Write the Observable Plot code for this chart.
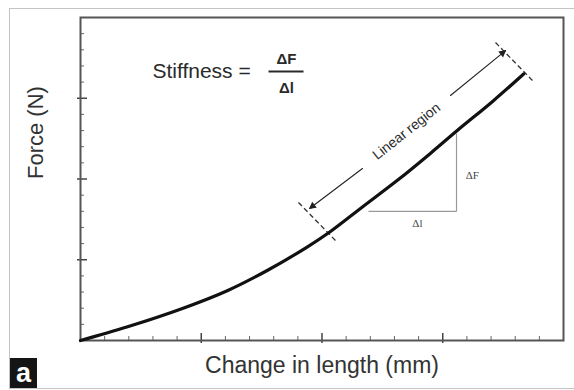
<!DOCTYPE html>
<html>
<head>
<meta charset="utf-8">
<script src="https://cdn.jsdelivr.net/npm/d3@7"></script>
<script src="https://cdn.jsdelivr.net/npm/@observablehq/plot@0.6"></script>
<style>
  body { margin: 0; background: #fff; }
  #wrap { position: relative; width: 574px; height: 390px; background: #fff; overflow: hidden; }
  #border { position: absolute; left: 9px; top: 8px; width: 580px; height: 379px; border: 1px solid #c4c4c4; border-right: none; }
  #chart { position: absolute; left: 0; top: 0; }
  #tag { position: absolute; left: 10px; top: 358px; width: 27px; height: 30px; background: #151515; color: #fff;
         font: bold 27px "Liberation Sans", Arial, sans-serif; line-height: 30px; text-align: center; }
</style>
</head>
<body>
<div id="wrap">
  <div id="border"></div>
  <div id="chart"></div>
  <div id="tag">a</div>
</div>
<script>
// Force–elongation curve (x: change in length, y: force)
const curveX = [0, 0.39, 0.85, 1.22, 1.55, 1.88, 2.07, 2.34, 2.63, 2.90, 3.12, 3.42, 3.67];
const curveY = [0, 0.17, 0.40, 0.62, 0.87, 1.16, 1.35, 1.66, 1.99, 2.32, 2.60, 2.97, 3.30];

// Axis ticks (no labels)
const xMajorTicks = [1, 2, 3];
const yMajorTicks = [1, 2, 3];
const xMinorTicks = [0.2, 0.4, 0.6, 0.8, 1.2, 1.4, 1.6, 1.8, 2.2, 2.4, 2.6, 2.8, 3.2, 3.4, 3.6, 3.8];
const yMinorTicks = [0.2, 0.4, 0.6, 0.8, 1.2, 1.4, 1.6, 1.8, 2.2, 2.4, 2.6, 2.8, 3.2, 3.4, 3.6, 3.8];

// Annotation geometry (data units)
const dashX1 = [3.437, 1.805];
const dashY1 = [3.69, 1.709];
const dashX2 = [3.743, 2.112];
const dashY2 = [3.22, 1.238];

const arrowX1 = [3.064, 2.335];
const arrowY1 = [3.034, 2.13];
const arrowX2 = [3.52, 1.897];
const arrowY2 = [3.59, 1.635];
const headX = [3.494, 1.923];
const headY = [3.559, 1.665];
const headAngle = [51, -127];

const triX1 = [3.114, 2.385];
const triY1 = [2.563, 1.598];
const triX2 = [3.114, 3.114];
const triY2 = [1.598, 1.598];

const xLabel = "Change in length (mm)";
const yLabel = "Force (N)";
const regionLabel = "Linear region";

const toRows = (a1, b1, a2, b2) => a1.map((v, i) => ({x1: v, y1: b1[i], x2: a2[i], y2: b2[i]}));
const curve = curveX.map((x, i) => ({x, y: curveY[i]}));
const heads = headX.map((x, i) => ({x, y: headY[i], a: headAngle[i]}));

const font = "'Liberation Sans', Arial, Helvetica, sans-serif";
const ink = "#2a2a2a";

const chart = Plot.plot({
  width: 574,
  height: 390,
  marginLeft: 80,
  marginRight: 11,
  marginTop: 17,
  marginBottom: 50,
  x: {domain: [0, 4], axis: null},
  y: {domain: [0, 4], axis: null},
  style: {background: "transparent", fontFamily: font},
  marks: [
    // ticks
    Plot.ruleX(xMinorTicks, {x: d => d, y1: 0, y2: 0, insetTop: -4, stroke: "#666", strokeWidth: 1}),
    Plot.ruleY(yMinorTicks, {y: d => d, x1: 0, x2: 0, insetRight: -4, stroke: "#666", strokeWidth: 1}),
    Plot.ruleX(xMajorTicks, {x: d => d, y1: 0, y2: 0, insetTop: -7, insetBottom: -3, stroke: "#444", strokeWidth: 1.5}),
    Plot.ruleY(yMajorTicks, {y: d => d, x1: 0, x2: 0, insetRight: -7, insetLeft: -3, stroke: "#444", strokeWidth: 1.5}),
    Plot.frame({stroke: "#555", strokeWidth: 2}),

    // triangle ΔF / Δl
    Plot.link(toRows(triX1, triY1, triX2, triY2), {x1: "x1", y1: "y1", x2: "x2", y2: "y2", stroke: "#9a9a9a", strokeWidth: 1.2}),
    Plot.text(["ΔF"], {x: 3.19, y: 2.04, textAnchor: "start", fontSize: 11, fontFamily: "'Liberation Serif', serif", fill: "#444"}),
    Plot.text(["Δl"], {x: 2.79, y: 1.45, fontSize: 11, fontFamily: "'Liberation Serif', serif", fill: "#444"}),

    // dashed end markers
    Plot.link(toRows(dashX1, dashY1, dashX2, dashY2), {x1: "x1", y1: "y1", x2: "x2", y2: "y2", stroke: "#333", strokeWidth: 1.3, strokeDasharray: "5,3"}),

    // arrows
    Plot.arrow(toRows(arrowX1, arrowY1, arrowX2, arrowY2), {x1: "x1", y1: "y1", x2: "x2", y2: "y2", stroke: "#222", strokeWidth: 1.1, headLength: 8, headAngle: 40}),
    Plot.dot(heads, {x: "x", y: "y", rotate: "a", symbol: "triangle2", r: 3.6, fill: "#222"}),
    Plot.text([regionLabel], {x: 2.70, y: 2.59, rotate: -38.5, fontSize: 14, fill: ink}),

    // curve
    Plot.line(curve, {x: "x", y: "y", curve: "catmull-rom", stroke: "#111", strokeWidth: 3.2}),

    // stiffness formula
    Plot.text(["Stiffness ="], {x: 0.596, y: 3.33, textAnchor: "start", fontSize: 21, fill: ink}),
    Plot.text(["ΔF"], {x: 1.706, y: 3.48, fontSize: 15, fontWeight: "bold", fill: ink}),
    Plot.link([{x1: 1.557, x2: 1.847, y: 3.331}], {x1: "x1", x2: "x2", y1: "y", y2: "y", stroke: ink, strokeWidth: 1.8}),
    Plot.text(["Δl"], {x: 1.706, y: 3.13, fontSize: 15, fontWeight: "bold", fill: ink}),

    // axis titles
    Plot.text([xLabel], {frameAnchor: "bottom", dy: 32, fontSize: 23, fill: "#333"}),
    Plot.text([yLabel], {frameAnchor: "left", dx: -45, rotate: -90, fontSize: 22, fill: "#333"})
  ]
});
document.getElementById("chart").appendChild(chart);
</script>
</body>
</html>
